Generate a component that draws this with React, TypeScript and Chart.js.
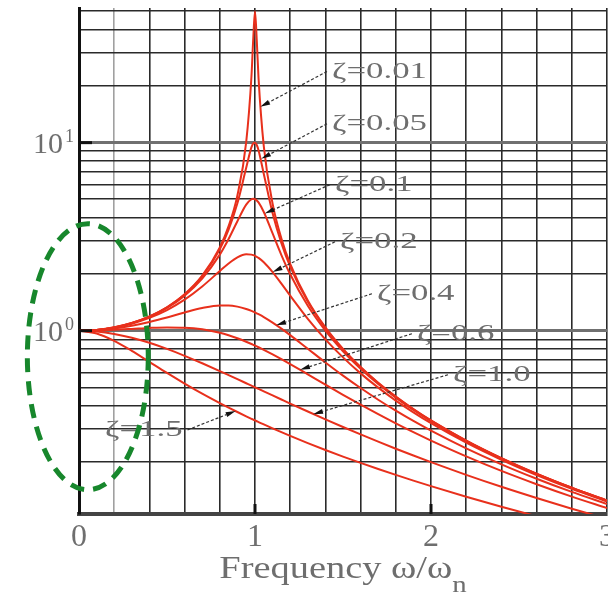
import { useEffect, useRef } from 'react';
import { Chart, registerables } from 'chart.js';

Chart.register(...registerables);

// frequency ratio ω/ωn
const FREQ = [0, 0.1, 0.2, 0.3, 0.4, 0.5, 0.6, 0.7, 0.8, 0.85, 0.9, 0.95, 0.98, 0.99, 1.0, 1.01, 1.02, 1.05, 1.1, 1.15, 1.2, 1.3, 1.4, 1.5, 1.6, 1.7, 1.8, 1.9, 2.0, 2.2, 2.4, 2.6, 2.8, 3.0];

// amplitude ratio for each damping ratio
const AMP_Z001 = [1, 1.01, 1.042, 1.099, 1.19, 1.333, 1.562, 1.961, 2.775, 3.597, 5.24, 10.07, 22.63, 35.62, 50, 35.09, 22.1, 9.558, 4.736, 3.093, 2.269, 1.448, 1.041, 0.7998, 0.641, 0.529, 0.4464, 0.3831, 0.3333, 0.2604, 0.2101, 0.1736, 0.1462, 0.125];
const AMP_Z005 = [1, 1.01, 1.041, 1.098, 1.189, 1.33, 1.556, 1.943, 2.712, 3.446, 4.757, 7.346, 9.461, 9.903, 10, 9.711, 9.115, 6.815, 4.218, 2.921, 2.193, 1.424, 1.031, 0.7943, 0.6377, 0.527, 0.445, 0.3821, 0.3326, 0.26, 0.2098, 0.1734, 0.1461, 0.1249];
const AMP_Z01 = [1, 1.01, 1.041, 1.097, 1.185, 1.322, 1.536, 1.891, 2.538, 3.073, 3.821, 4.683, 5.001, 5.025, 5, 4.926, 4.809, 4.279, 3.288, 2.525, 1.995, 1.356, 1.0, 0.7779, 0.6279, 0.5207, 0.4408, 0.3791, 0.3304, 0.2587, 0.209, 0.1729, 0.1457, 0.1247];
const AMP_Z02 = [1, 1.009, 1.038, 1.09, 1.17, 1.288, 1.463, 1.719, 2.076, 2.279, 2.457, 2.549, 2.538, 2.522, 2.5, 2.472, 2.439, 2.313, 2.051, 1.78, 1.536, 1.157, 0.8998, 0.7212, 0.5931, 0.4979, 0.425, 0.3679, 0.3221, 0.2538, 0.2059, 0.1708, 0.1443, 0.1236];
const AMP_Z04 = [1, 1.007, 1.028, 1.063, 1.113, 1.176, 1.25, 1.32, 1.362, 1.362, 1.343, 1.305, 1.274, 1.262, 1.25, 1.237, 1.224, 1.182, 1.105, 1.026, 0.9469, 0.8012, 0.6779, 0.5771, 0.4956, 0.4295, 0.3755, 0.3311, 0.2941, 0.2367, 0.1948, 0.1633, 0.1389, 0.1197];
const AMP_Z06 = [1, 1.003, 1.011, 1.022, 1.034, 1.041, 1.038, 1.018, 0.9753, 0.946, 0.9119, 0.874, 0.8499, 0.8416, 0.8333, 0.825, 0.8166, 0.791, 0.7482, 0.7056, 0.6641, 0.5862, 0.5168, 0.4563, 0.4042, 0.3596, 0.3214, 0.2885, 0.2603, 0.2146, 0.1797, 0.1527, 0.1312, 0.114];
const AMP_Z10 = [1, 0.9901, 0.9615, 0.9174, 0.8621, 0.8, 0.7353, 0.6711, 0.6098, 0.5806, 0.5525, 0.5256, 0.5101, 0.505, 0.5, 0.495, 0.4901, 0.4756, 0.4525, 0.4306, 0.4098, 0.3717, 0.3378, 0.3077, 0.2809, 0.2571, 0.2358, 0.2169, 0.2, 0.1712, 0.1479, 0.1289, 0.1131, 0.1];
const AMP_Z15 = [1, 0.9667, 0.8833, 0.7813, 0.6827, 0.5963, 0.5235, 0.4627, 0.4121, 0.3899, 0.3695, 0.3507, 0.3401, 0.3367, 0.3333, 0.33, 0.3268, 0.3173, 0.3024, 0.2886, 0.2757, 0.2525, 0.2321, 0.2141, 0.1981, 0.1839, 0.1711, 0.1595, 0.1491, 0.131, 0.1159, 0.1031, 0.0923, 0.083];

const SERIES = [AMP_Z001, AMP_Z005, AMP_Z01, AMP_Z02, AMP_Z04, AMP_Z06, AMP_Z10, AMP_Z15];
const SERIES_NAMES = ['ζ=0.01', 'ζ=0.05', 'ζ=0.1', 'ζ=0.2', 'ζ=0.4', 'ζ=0.6', 'ζ=1.0', 'ζ=1.5'];

// axis ticks
const Y_GRID = [0.2, 0.3, 0.4, 0.5, 0.6, 0.7, 0.8, 0.9, 1, 2, 3, 4, 5, 6, 7, 8, 9, 10, 20, 30, 40, 50];
const Y_LABEL_VALUES = [1, 10];
const Y_LABEL_EXP = ['0', '1'];
const X_LABEL_VALUES = [0, 1, 2, 3];
const TITLE_MAIN = 'Frequency ω/ω';
const TITLE_SUB = 'n';

// leader annotations (data coordinates): text anchor and arrow tip
const ANNOTATIONS = [
  { text: 'ζ=0.01', tx: 1.4375, ty: 23.9, px: 1.03, py: 15.5, side: 'left' },
  { text: 'ζ=0.05', tx: 1.4375, ty: 12.6, px: 1.035, py: 8.2, side: 'left' },
  { text: 'ζ=0.1', tx: 1.4545, ty: 5.98, px: 1.055, py: 4.2, side: 'left' },
  { text: 'ζ=0.2', tx: 1.483, ty: 2.97, px: 1.1, py: 2.05, side: 'left' },
  { text: 'ζ=0.4', tx: 1.693, ty: 1.573, px: 1.12, py: 1.07, side: 'left' },
  { text: 'ζ=0.6', tx: 1.92, ty: 0.964, px: 1.256, py: 0.62, side: 'left' },
  { text: 'ζ=1.0', tx: 2.125, ty: 0.583, px: 1.33, py: 0.36, side: 'left' },
  { text: 'ζ=1.5', tx: 0.148, ty: 0.297, px: 0.89, py: 0.374, side: 'right' },
];

// highlighted region (data coordinates)
const ELLIPSE = { cx: 0.05, cy: 0.727, xLeft: -0.295, xRight: 0.392, yTop: 3.71, yBottom: 0.1426 };

const SERIF = '"Liberation Serif", "DejaVu Serif", serif';
const TEXT_GRAY = '#6e6e6e';

const overlayPlugin = {
  id: 'overlay',
  afterDraw(chart: any) {
    const { ctx, chartArea } = chart;
    const xs = chart.scales.x;
    const ys = chart.scales.y;
    ctx.save();

    // decade ticks on y axis
    ctx.strokeStyle = '#111';
    ctx.lineWidth = 3;
    Y_LABEL_VALUES.forEach((v) => {
      const p = ys.getPixelForValue(v);
      ctx.beginPath();
      ctx.moveTo(chartArea.left, p);
      ctx.lineTo(chartArea.left + 13, p);
      ctx.stroke();
    });
    // major ticks on x axis
    [1, 2].forEach((v) => {
      const p = xs.getPixelForValue(v);
      ctx.beginPath();
      ctx.moveTo(p, chartArea.bottom);
      ctx.lineTo(p, chartArea.bottom - 10);
      ctx.stroke();
    });

    // y labels 10^0, 10^1
    ctx.fillStyle = TEXT_GRAY;
    Y_LABEL_VALUES.forEach((v, i) => {
      const p = ys.getPixelForValue(v);
      ctx.font = `30px ${SERIF}`;
      ctx.textAlign = 'right';
      ctx.textBaseline = 'middle';
      ctx.fillText('10', chartArea.left - 16, p + 2);
      ctx.font = `18px ${SERIF}`;
      ctx.textAlign = 'left';
      ctx.textBaseline = 'alphabetic';
      ctx.fillText(Y_LABEL_EXP[i], chartArea.left - 14, p - 1);
    });

    // annotations
    ANNOTATIONS.forEach((a) => {
      const tx = xs.getPixelForValue(a.tx);
      const ty = ys.getPixelForValue(a.ty);
      const px = xs.getPixelForValue(a.px);
      const py = ys.getPixelForValue(a.py);
      ctx.font = `24px ${SERIF}`;
      const sx = 1.45;
      const w = ctx.measureText(a.text).width * sx;
      ctx.save();
      ctx.translate(tx, ty);
      ctx.scale(sx, 1);
      ctx.fillStyle = TEXT_GRAY;
      ctx.textAlign = 'left';
      ctx.textBaseline = 'middle';
      ctx.fillText(a.text, 0, 0);
      ctx.restore();
      const sxp = a.side === 'left' ? tx - 5 : tx + w + 5;
      const syp = ty;
      const ang = Math.atan2(py - syp, px - sxp);
      const al = 10;
      const bx = px - Math.cos(ang) * al;
      const by = py - Math.sin(ang) * al;
      ctx.strokeStyle = '#333';
      ctx.lineWidth = 1.2;
      ctx.setLineDash([3, 2]);
      ctx.beginPath();
      ctx.moveTo(sxp, syp);
      ctx.lineTo(bx, by);
      ctx.stroke();
      ctx.setLineDash([]);
      ctx.fillStyle = '#111';
      ctx.beginPath();
      ctx.moveTo(px, py);
      ctx.lineTo(bx + Math.sin(ang) * 2.5, by - Math.cos(ang) * 2.5);
      ctx.lineTo(bx - Math.sin(ang) * 2.5, by + Math.cos(ang) * 2.5);
      ctx.closePath();
      ctx.fill();
    });

    // title with subscript
    const mainFont = `32px ${SERIF}`;
    const subFont = `24px ${SERIF}`;
    const tsx = 1.2;
    ctx.font = mainFont;
    const wMain = ctx.measureText(TITLE_MAIN).width * tsx;
    ctx.font = subFont;
    const wSub = ctx.measureText(TITLE_SUB).width * tsx;
    const cx = (chartArea.left + chartArea.right) / 2;
    const left = cx - (wMain + wSub) / 2;
    const base = chartArea.bottom + 64;
    ctx.fillStyle = TEXT_GRAY;
    ctx.textAlign = 'left';
    ctx.textBaseline = 'alphabetic';
    ctx.save();
    ctx.translate(left, base);
    ctx.scale(tsx, 1);
    ctx.font = mainFont;
    ctx.fillText(TITLE_MAIN, 0, 0);
    ctx.restore();
    ctx.save();
    ctx.translate(left + wMain, base + 14);
    ctx.scale(tsx, 1);
    ctx.font = subFont;
    ctx.fillText(TITLE_SUB, 0, 0);
    ctx.restore();

    // dashed green ellipse
    const ecx = xs.getPixelForValue(ELLIPSE.cx);
    const ecy = ys.getPixelForValue(ELLIPSE.cy);
    const rx = (xs.getPixelForValue(ELLIPSE.xRight) - xs.getPixelForValue(ELLIPSE.xLeft)) / 2;
    const ry = (ys.getPixelForValue(ELLIPSE.yBottom) - ys.getPixelForValue(ELLIPSE.yTop)) / 2;
    ctx.strokeStyle = '#17872c';
    ctx.lineWidth = 5;
    ctx.setLineDash([14, 9]);
    ctx.beginPath();
    ctx.ellipse(ecx, ecy, rx, ry, 0, 0, Math.PI * 2);
    ctx.stroke();
    ctx.setLineDash([]);

    ctx.restore();
  },
};

export default function App() {
  const ref = useRef<HTMLCanvasElement | null>(null);
  useEffect(() => {
    if (!ref.current) return;
    const chart = new Chart(ref.current, {
      type: 'line',
      data: {
        datasets: SERIES.map((s, i) => ({
          label: SERIES_NAMES[i],
          data: FREQ.map((f, j) => ({ x: f, y: s[j] })),
          borderColor: '#e8301c',
          borderWidth: 2,
          pointRadius: 0,
          fill: false,
          cubicInterpolationMode: 'monotone' as const,
        })),
      },
      options: {
        animation: false,
        responsive: false,
        maintainAspectRatio: false,
        layout: { padding: { top: 8, right: 23, left: 0, bottom: 0 } },
        plugins: { legend: { display: false }, tooltip: { enabled: false } },
        scales: {
          x: {
            type: 'linear',
            min: 0,
            max: 3,
            ticks: {
              stepSize: 0.2,
              autoSkip: false,
              maxRotation: 0,
              color: TEXT_GRAY,
              padding: 4,
              font: { family: SERIF, size: 32 },
              callback: (v: any) => {
                const n = Number(v);
                const hit = X_LABEL_VALUES.find((l) => Math.abs(l - n) < 1e-6);
                return hit === undefined ? '' : String(hit);
              },
            },
            grid: {
              drawTicks: false,
              lineWidth: 1.6,
              color: (c: any) => (c.tick && Math.abs(c.tick.value - 0.2) < 1e-6 ? '#a0a0a0' : '#2a2a2a'),
            },
            border: { color: '#444', width: 4 },
            afterFit: (s: any) => { s.height = 82; },
          },
          y: {
            type: 'logarithmic',
            min: 0.106,
            max: 52,
            afterBuildTicks: (s: any) => { s.ticks = Y_GRID.map((v) => ({ value: v })); },
            ticks: { display: false },
            grid: {
              drawTicks: false,
              lineWidth: (c: any) => (c.tick && (c.tick.value === 1 || c.tick.value === 10) ? 3 : 1.6),
              color: (c: any) => (c.tick && (c.tick.value === 1 || c.tick.value === 10) ? '#707070' : '#2a2a2a'),
            },
            border: { color: '#111', width: 3 },
            afterFit: (s: any) => { s.width = 79; },
          },
        },
      },
      plugins: [overlayPlugin],
    });
    return () => chart.destroy();
  }, []);
  return (
    <div style={{ position: 'fixed', left: 0, top: 0, width: 608, height: 596, overflow: 'hidden', background: '#fff' }}>
      <canvas ref={ref} width={630} height={596} style={{ display: 'block', width: 630, height: 596 }} />
    </div>
  );
}
